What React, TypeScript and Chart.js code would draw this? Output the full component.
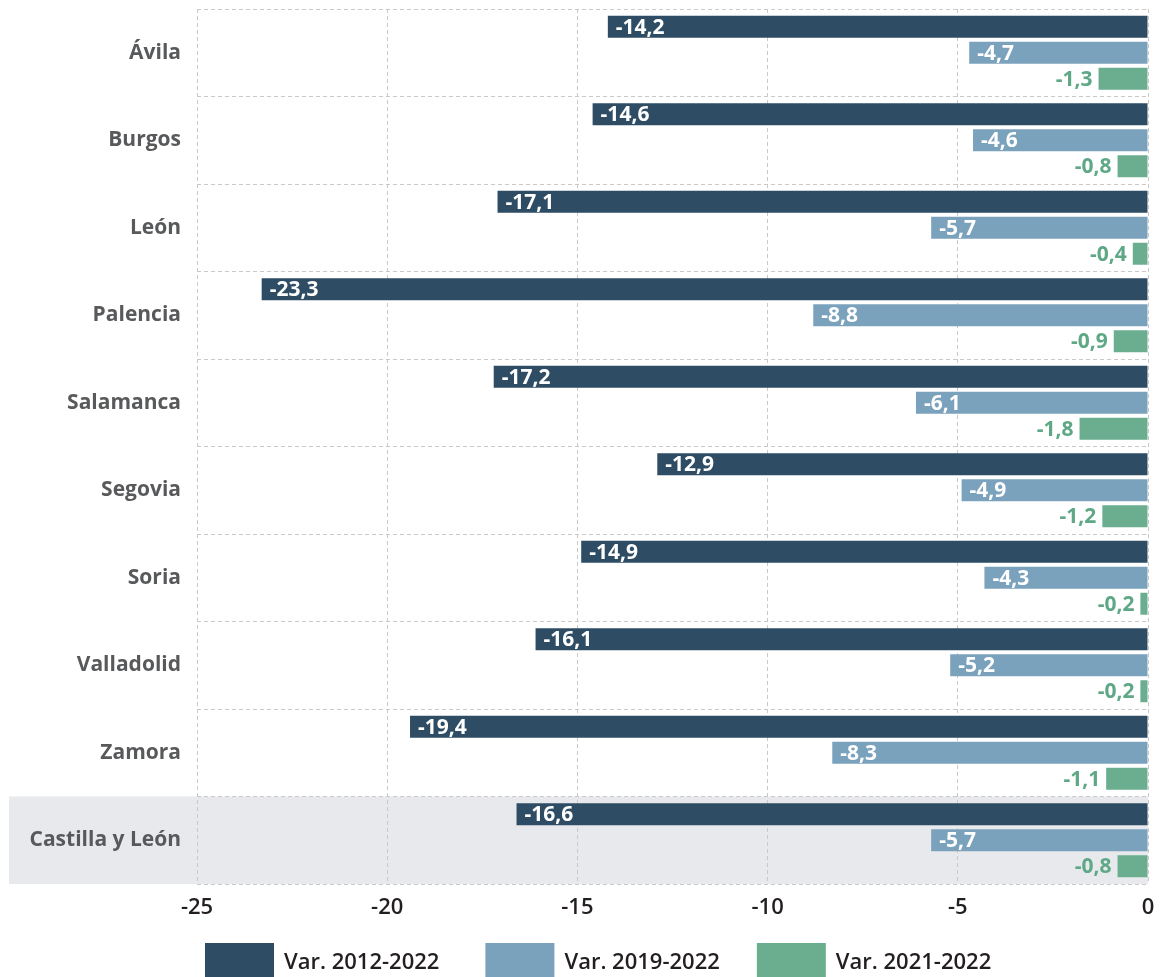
import React, { useEffect, useRef } from "react";
import { Chart, registerables } from "chart.js";

Chart.register(...registerables);

const categories = ["Ávila", "Burgos", "León", "Palencia", "Salamanca", "Segovia", "Soria", "Valladolid", "Zamora", "Castilla y León"];
const var2012_2022 = [-14.2, -14.6, -17.1, -23.3, -17.2, -12.9, -14.9, -16.1, -19.4, -16.6];
const var2019_2022 = [-4.7, -4.6, -5.7, -8.8, -6.1, -4.9, -4.3, -5.2, -8.3, -5.7];
const var2021_2022 = [-1.3, -0.8, -0.4, -0.9, -1.8, -1.2, -0.2, -0.2, -1.1, -0.8];
const seriesLabels = ["Var. 2012-2022", "Var. 2019-2022", "Var. 2021-2022"];
const seriesColors = ["#2e4d64", "#7ba2bd", "#6aae8f"];
const xMin = -25;
const xMax = 0;
const xStep = 5;

const FONT = "'Open Sans', sans-serif";

const fmt = (v: number) => v.toFixed(1).replace(".", ",");

const bandPlugin = {
  id: "band",
  beforeDraw(chart: any) {
    const { ctx, chartArea, scales } = chart;
    const y = scales.y;
    const last = categories.length - 1;
    const half = Math.abs(y.getPixelForValue(1) - y.getPixelForValue(0)) / 2;
    const top = y.getPixelForValue(last) - half;
    ctx.save();
    ctx.fillStyle = "#e7e9ec";
    ctx.fillRect(9, top, chartArea.right - 9, chartArea.bottom - top);
    ctx.restore();
  },
};

const valueLabelPlugin = {
  id: "valueLabels",
  afterDatasetsDraw(chart: any) {
    const { ctx } = chart;
    ctx.save();
    ctx.font = `700 21px ${FONT}`;
    ctx.textBaseline = "middle";
    chart.data.datasets.forEach((ds: any, di: number) => {
      const meta = chart.getDatasetMeta(di);
      meta.data.forEach((el: any, i: number) => {
        const v = ds.data[i];
        const txt = fmt(v);
        if (di < 2) {
          ctx.fillStyle = "#ffffff";
          ctx.textAlign = "left";
          ctx.fillText(txt, el.x + 8, el.y + 1);
        } else {
          ctx.fillStyle = "#5fa886";
          ctx.textAlign = "right";
          ctx.fillText(txt, el.x - 6, el.y + 1);
        }
      });
    });
    ctx.restore();
  },
};

const legendPlugin = {
  id: "customLegend",
  afterDraw(chart: any) {
    const { ctx } = chart;
    ctx.save();
    ctx.font = `600 22px ${FONT}`;
    const boxW = 69;
    const boxH = 40;
    const gap = 10;
    const seps = [46, 37];
    const labels = chart.data.datasets.map((d: any) => d.label);
    const widths = labels.map((t: string) => ctx.measureText(t).width);
    let x = 205;
    const top = 943;
    ctx.textBaseline = "middle";
    ctx.textAlign = "left";
    labels.forEach((t: string, i: number) => {
      ctx.fillStyle = chart.data.datasets[i].backgroundColor;
      ctx.fillRect(x, top, boxW, boxH);
      ctx.fillStyle = "#231f20";
      ctx.fillText(t, x + boxW + gap, top + 20);
      x += boxW + gap + widths[i] + (seps[i] || 0);
    });
    ctx.restore();
  },
};

export default function App() {
  const ref = useRef<HTMLCanvasElement | null>(null);
  useEffect(() => {
    if (!ref.current) return;
    const gridCommon = { color: "#c9c9c9", lineWidth: 1, drawTicks: false };
    const chart = new Chart(ref.current, {
      type: "bar",
      data: {
        labels: categories,
        datasets: [var2012_2022, var2019_2022, var2021_2022].map((d, i) => ({
          label: seriesLabels[i],
          data: d,
          backgroundColor: seriesColors[i],
          borderWidth: 0,
          categoryPercentage: 0.891,
          barPercentage: 0.846,
        })),
      },
      options: {
        indexAxis: "y",
        responsive: false,
        animation: false,
        layout: { padding: { left: 0, right: 12, top: 9, bottom: 44.6 } },
        plugins: {
          legend: { display: false },
          tooltip: { enabled: false },
        },
        scales: {
          x: {
            min: xMin,
            max: xMax,
            ticks: { stepSize: xStep, color: "#231f20", padding: 11, font: { family: FONT, size: 22, weight: "600" } },
            grid: gridCommon,
            border: { display: false, dash: [4, 3] },
            afterFit: (s: any) => {
              s.paddingLeft = 0;
              s.paddingRight = 0;
            },
          },
          y: {
            ticks: { color: "#58595b", padding: 16, font: { family: FONT, size: 21, weight: "700" } },
            grid: gridCommon,
            border: { display: false, dash: [4, 3] },
            afterFit: (s: any) => {
              s.width = 197;
              s.paddingTop = 0;
              s.paddingBottom = 0;
            },
          },
        },
      } as any,
      plugins: [bandPlugin, valueLabelPlugin, legendPlugin],
    });
    return () => chart.destroy();
  }, []);
  return (
    <div>
      <style>{"html{overflow:hidden}"}</style>
      <canvas
        ref={ref}
        width={1160}
        height={977}
        style={{ display: "block", position: "absolute", left: 0, top: 0 }}
      />
    </div>
  );
}
